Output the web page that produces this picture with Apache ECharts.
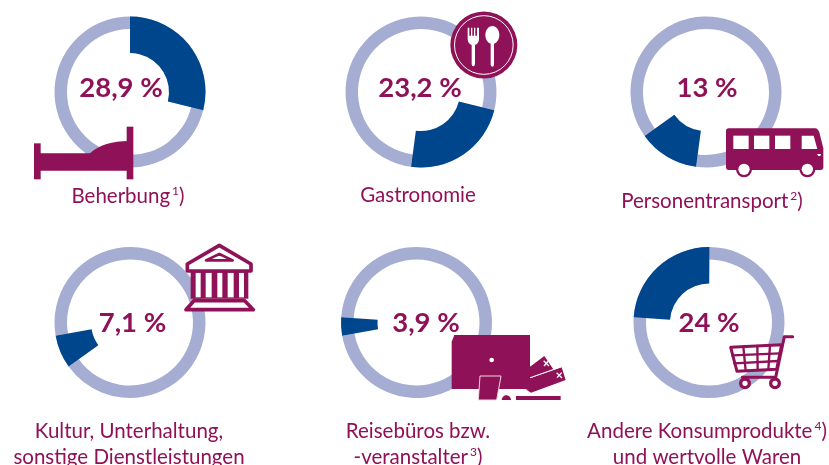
<!DOCTYPE html>
<html><head><meta charset="utf-8">
<style>html,body{margin:0;padding:0;background:#fff}#c{width:829px;height:465px}</style>
<script src="https://cdn.jsdelivr.net/npm/echarts@6/dist/echarts.min.js"></script>
</head><body><div id="c"></div>
<script>
const categories = ['Beherbung','Gastronomie','Personentransport','Kultur, Unterhaltung,\nsonstige Dienstleistungen','Reisebüros bzw.\n-veranstalter','Andere Konsumprodukte\nund wertvolle Waren'];
const footnotes = ['1','','2','','3','4'];
const footnoteLine = [0,0,0,0,1,0];
const shares = [28.9,23.2,13,7.1,3.9,24];
const shareLabels = ['28,9 %','23,2 %','13 %','7,1 %','3,9 %','24 %'];

const PURPLE='#8f1157', BLUE='#00468c', RING='#a5aed2', FONT='Lato';
const centers=[[130,92],[421,92],[706,92],[130,322.5],[416.5,322.5],[709,322.5]];
const valuePos=[[121,88],[420,88],[707,88],[132.5,323],[426,323],[709,323]];
const labelPos=[[128,196],[418,195],[712,201],[129,418],[418,418],[707,418]];

const series=[]; let cum=0;
shares.forEach((s,i)=>{
  const start=90-cum*3.6;
  series.push({type:'pie',silent:true,center:centers[i],radius:[63,75.5],startAngle:start,label:{show:false},labelLine:{show:false},
    data:[{value:s,name:categories[i],itemStyle:{color:RING}},{value:100-s,name:'rest',itemStyle:{color:RING}}],animation:false,z:1});
  series.push({type:'pie',silent:true,center:centers[i],radius:[39,75.5],startAngle:start,label:{show:false},labelLine:{show:false},
    data:[{value:s,name:categories[i],itemStyle:{color:BLUE}},{value:100-s,name:'rest',itemStyle:{color:'rgba(0,0,0,0)'}}],animation:false,z:2});
  cum+=s;
});

let pathCount=0;
const svg=(d,style)=>{const n='svgp'+(pathCount++);echarts.graphic.registerShape(n,echarts.graphic.extendPath(d,{}));return {type:n,shape:{},style};};
const fill=(d,c)=>svg(d,{fill:c||PURPLE});
const line=(d,w,f)=>svg(d,{fill:f||'none',stroke:PURPLE,lineWidth:w,lineJoin:'round',lineCap:'round'});
const rect=(x,y,w,h,c)=>({type:'rect',shape:{x,y,width:w,height:h},style:{fill:c||PURPLE}});
const circ=(cx,cy,r,c)=>({type:'circle',shape:{cx,cy,r},style:{fill:c||PURPLE}});
const icon=(x,y,children)=>({type:'group',x,y,scaleX:1/3,scaleY:1/3,children:children.map((c,k)=>Object.assign(c,{z:10,zlevel:1}))});

const icons=[
 icon(30,120,[rect(12,70,20,108),rect(290,20,20,158),
   fill('M25 100 L180 100 C205 75 250 63 295 63 L295 152 L25 152 Z')]),
 icon(445,5,[circ(116.5,120,100.5),
   {type:'circle',shape:{cx:116.5,cy:120,r:88},style:{fill:'none',stroke:'#fff',lineWidth:3}},
   fill('M68 68 L73 68 L73 92 L78 92 L78 68 L82 68 L82 92 L87 92 L87 68 L91 68 L91 92 L96 92 L96 68 L102 68 L102 102 C102 112 96 118 90 120 L90 176 C90 186 80 186 80 176 L80 120 C74 118 68 112 68 102 Z','#fff'),
   {type:'ellipse',shape:{cx:142,cy:90,rx:21,ry:27},style:{fill:'#fff'}},
   fill('M137 110 L147 110 L147 178 C147 188 137 188 137 178 Z','#fff')]),
 icon(720,120,[fill('M26 25 L285 25 C292 25 295 30 298 37 L310 85 L310 142 C310 147 307 150 302 150 L26 150 C21 150 18 147 18 142 L18 33 C18 28 21 25 26 25 Z'),
   rect(40,47,46,40,'#fff'),rect(102,47,46,40,'#fff'),rect(165,47,46,40,'#fff'),
   fill('M245 47 L281 47 L292 87 L245 87 Z','#fff'),fill('M291 102 L303 102 L301 108 L295 108 Z','#fff'),
   circ(72,148,24),circ(72,148,17,'#fff'),circ(262,148,24),circ(262,148,17,'#fff')]),
 icon(180,238,[
   rect(32,98,173,84),
   rect(47,104,15,74,'#fff'),rect(77,104,18,74,'#fff'),rect(112,104,15,74,'#fff'),rect(143,104,18,74,'#fff'),rect(177,104,15,74,'#fff'),
   line('M22 78 L118 22 L213 78 L213 99 L22 99 Z',11,'#fff'),
   line('M78 67 L118 48 L158 67 Z',8,'#fff'),
   line('M42 188 L194 188 L220 215 L18 215 Z',11,'#fff')]),
 icon(445,330,[fill('M28 15 L255 15 L255 177 L20 177 L20 35 Z'),circ(140,90,7,'#fff'),
   svg('M105 138 L168 138 L155 210 L100 210 Z',{fill:PURPLE,stroke:'#f3d5e4',lineWidth:3}),
   fill('M170 210 A14 14 0 0 1 198 210 Z'),rect(213,198,134,12),
   fill('M255 110 L298 78 L325 118 L255 143 Z'),
   fill('M255 145 L350 112 L362 150 L258 188 L242 178 L255 177 Z'),
   svg('M255 143 L350 110',{stroke:'#fff',lineWidth:2.5,fill:'none'}),
   svg('M296 92 L312 108 M310 93 L297 108 M335 128 L351 144 M350 128 L336 143',{stroke:'#fff',lineWidth:4,fill:'none'})]),
 icon(725,330,[
   line('M203 20 L178 20 L152 142 L52 142',9),
   line('M17 52 L170 44 L155 118 L36 124 Z',9,'#fff'),
   line('M55 50 L62 122 M97 48 L98 120 M135 46 L130 118',7),
   line('M22 76 L165 70 M28 100 L160 93',7),
   {type:'circle',shape:{cx:60,cy:160,r:13},style:{fill:'#fff',stroke:PURPLE,lineWidth:10}},
   {type:'circle',shape:{cx:150,cy:160,r:13},style:{fill:'#fff',stroke:PURPLE,lineWidth:10}}])
];

const texts=[];
shareLabels.forEach((t,i)=>texts.push({type:'text',x:valuePos[i][0],y:valuePos[i][1],z:12,zlevel:1,
  style:{text:t,fill:PURPLE,fontFamily:FONT,fontWeight:700,fontSize:27.5,align:'center',verticalAlign:'middle'}}));
categories.forEach((c,i)=>{
  const lines=c.split('\n');
  const txt=lines.map((l,j)=>'{a|'+l+'}'+(j===footnoteLine[i]&&footnotes[i]?'{s|'+footnotes[i]+'}{a|)}':'')).join('\n');
  texts.push({type:'text',x:labelPos[i][0],y:labelPos[i][1],z:12,zlevel:1,
    style:{text:txt,align:'center',verticalAlign:lines.length>1?'top':'middle',fill:PURPLE,
      rich:{a:{fontFamily:FONT,fontSize:20.5,fill:PURPLE,lineHeight:26},
            s:{fontFamily:FONT,fontSize:12,fill:PURPLE,lineHeight:26,verticalAlign:'top',padding:[2,0,0,2]}}}});
});
const chart=echarts.init(document.getElementById('c'),null,{renderer:'canvas'});
chart.setOption({animation:false,series,graphic:{elements:[...icons,...texts]}});
</script></body></html>
